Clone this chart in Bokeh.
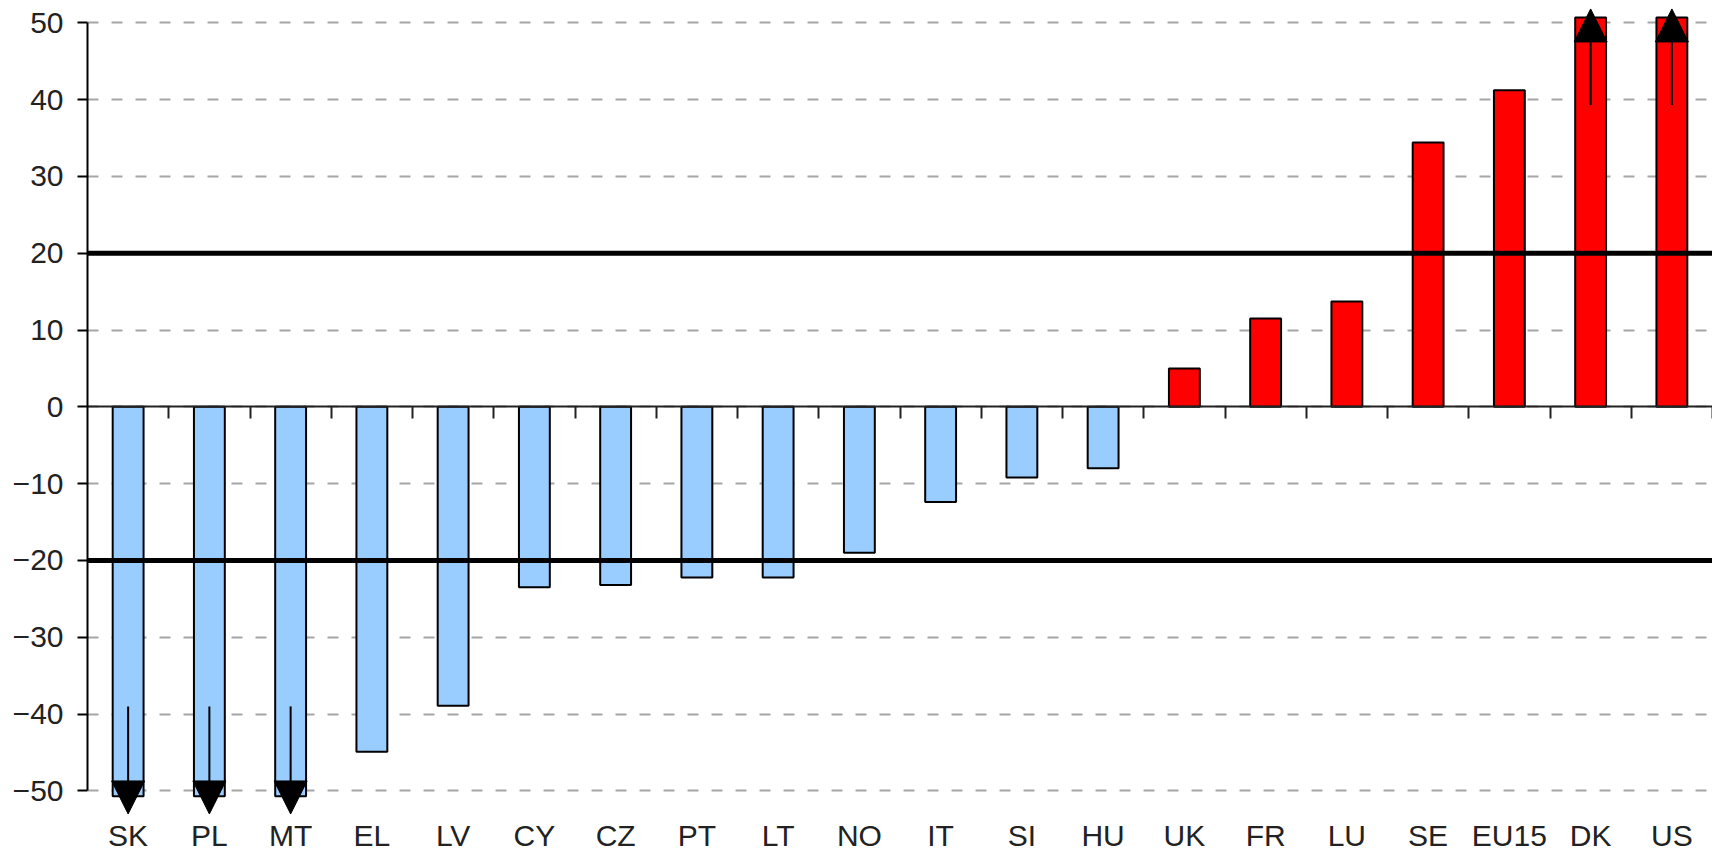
from bokeh.plotting import figure
from bokeh.models import (Range1d, FixedTicker, LinearAxis, Span, Arrow,
                          NormalHead, ColumnDataSource)
from bokeh.embed import file_html
from bokeh.resources import INLINE

# ---------------- data ----------------
countries = ["SK", "PL", "MT", "EL", "LV", "CY", "CZ", "PT", "LT", "NO",
             "IT", "SI", "HU", "UK", "FR", "LU", "SE", "EU15", "DK", "US"]
# values as displayed (off-scale bars are cut at the axis limits)
values = [-50.7, -50.7, -50.7, -44.9, -38.9, -23.5, -23.2, -22.2, -22.2, -19.0,
          -12.4, -9.2, -8.0, 5.0, 11.5, 13.7, 34.4, 41.2, 50.7, 50.7]
y_ticks = [-50, -40, -30, -20, -10, 0, 10, 20, 30, 40, 50]
thresholds = [20, -20]
# off-scale indicators (arrows)
arrow_countries = ["SK", "PL", "MT", "DK", "US"]
arrow_from = [-39.0, -39.0, -39.0, 39.3, 39.3]
arrow_to = [-53.0, -53.0, -53.0, 51.8, 51.8]

BLUE = "#99ccff"
RED = "#ff0000"
FONT = "Liberation Sans"
TXT = "#222222"

n = len(countries)
xs = [i + 0.5 for i in range(n)]
colors = [RED if v > 0 else BLUE for v in values]
src = ColumnDataSource(dict(x=xs, top=values, color=colors, name=countries))

ax = [xs[countries.index(c)] for c in arrow_countries]
asrc = ColumnDataSource(dict(x=ax, y0=arrow_from, y1=arrow_to))

p = figure(frame_width=1625, frame_height=815,
           x_range=Range1d(0, n), y_range=Range1d(-53.2, 52.9),
           x_axis_type=None, output_backend="svg", toolbar_location=None,
           min_border_left=87, min_border_right=0, min_border_top=0,
           min_border_bottom=0)
p.outline_line_color = None
p.background_fill_color = "white"
p.border_fill_color = "white"

# grid
p.ygrid.ticker = FixedTicker(ticks=y_ticks)
p.ygrid.grid_line_color = "#a6a6a6"
p.ygrid.grid_line_width = 2
p.ygrid.grid_line_dash = "11 13"

# bars
p.vbar(x="x", top="top", bottom=0, width=0.38, fill_color="color",
       line_color="black", line_width=2, source=src)

# thick reference lines
for t in thresholds:
    p.add_layout(Span(location=t, dimension="width", line_color="black",
                      line_width=5))

# off-scale arrows
p.add_layout(Arrow(end=NormalHead(size=33, fill_color="black",
                                  line_color="black", line_width=1),
                   x_start="x", y_start="y0", x_end="x", y_end="y1",
                   line_color="black", line_width=2, source=asrc))

# y axis
ya = p.yaxis[0]
ya.ticker = FixedTicker(ticks=y_ticks)
ya.bounds = (-50, 50)
ya.axis_line_color = "black"
ya.axis_line_width = 2
ya.major_tick_line_color = "black"
ya.major_tick_line_width = 2
ya.major_tick_in = 0
ya.major_tick_out = 10
ya.minor_tick_line_color = None
ya.major_label_standoff = 14
ya.major_label_text_font = FONT
ya.major_label_text_font_size = "30px"
ya.major_label_text_color = TXT

# zero line with category separators
za = LinearAxis(fixed_location=0, ticker=FixedTicker(ticks=list(range(1, n + 1))))
za.axis_line_color = "#222222"
za.axis_line_width = 2
za.major_tick_line_color = "#222222"
za.major_tick_line_width = 2
za.major_tick_in = 0
za.major_tick_out = 12
za.minor_tick_line_color = None
za.major_label_text_color = None
p.add_layout(za, "below")

# category labels
la = LinearAxis(ticker=FixedTicker(ticks=xs),
                major_label_overrides={x: c for x, c in zip(xs, countries)})
la.axis_line_color = None
la.major_tick_line_color = None
la.minor_tick_line_color = None
la.major_tick_in = 0
la.major_tick_out = 0
la.major_label_standoff = 3
la.major_label_text_font = FONT
la.major_label_text_font_size = "30px"
la.major_label_text_color = TXT
p.add_layout(la, "below")

open("out.html", "w").write(file_html(p, INLINE))
